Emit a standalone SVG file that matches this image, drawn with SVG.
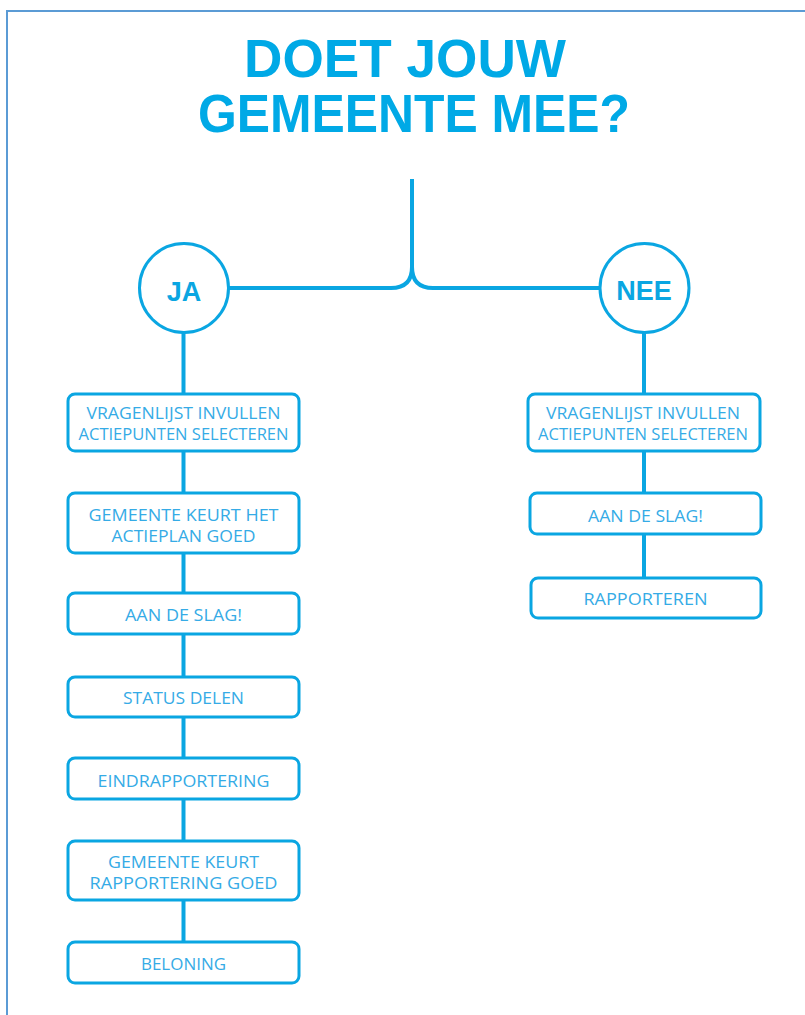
<svg xmlns="http://www.w3.org/2000/svg" width="805" height="1015" viewBox="0 0 805 1015">
<style>
.box{fill:#ffffff;stroke:#0aa6e2;stroke-width:3}
.circ{fill:#ffffff;stroke:#0aa6e2;stroke-width:3}
.con{fill:none;stroke:#0aa6e2;stroke-width:4}
.lbl{font-family:"Open Sans","Liberation Sans",sans-serif;font-size:16.5px;fill:#35abe6;text-anchor:middle}
.ttl{font-family:"Liberation Sans",Arial,sans-serif;font-weight:bold;font-size:53px;fill:#00a9e6;text-anchor:middle}
.cl{font-family:"Liberation Sans",Arial,sans-serif;font-weight:bold;font-size:27px;fill:#0aa6e2;text-anchor:middle}
</style>
<rect width="805" height="1015" fill="#ffffff"/>
<path d="M7,1015 V11 H805" fill="none" stroke="#5b9bd5" stroke-width="2"/>
<g id="title">
<text class="ttl" x="405" y="77" textLength="322" lengthAdjust="spacingAndGlyphs">DOET JOUW</text>
<text class="ttl" x="414" y="132" textLength="432" lengthAdjust="spacingAndGlyphs">GEMEENTE MEE?</text>
</g>
<g id="connectors">
<path class="con" d="M412,179 V267 Q412,288 391,288 H229"/>
<path class="con" d="M412,267 Q412,288 433,288 H600"/>
<line class="con" x1="183.5" y1="333" x2="183.5" y2="942"/>
<line class="con" x1="644" y1="333" x2="644" y2="578"/>
</g>
<g id="ja">
<circle class="circ" cx="184" cy="288" r="44.5"/>
<text class="cl" x="184" y="301">JA</text>
</g>
<g id="nee">
<circle class="circ" cx="644.5" cy="288" r="44.5"/>
<text class="cl" x="644" y="300">NEE</text>
</g>
<g id="ja1">
<rect class="box" x="68" y="394" width="231" height="57" rx="7"/>
<text class="lbl" x="183.5" y="419" textLength="194" lengthAdjust="spacingAndGlyphs">VRAGENLIJST INVULLEN</text>
<text class="lbl" x="183.5" y="440" textLength="210" lengthAdjust="spacingAndGlyphs">ACTIEPUNTEN SELECTEREN</text>
</g>
<g id="ja2">
<rect class="box" x="68" y="493" width="231" height="60" rx="7"/>
<text class="lbl" x="183.5" y="521" textLength="190" lengthAdjust="spacingAndGlyphs">GEMEENTE KEURT HET</text>
<text class="lbl" x="183.5" y="542" textLength="144" lengthAdjust="spacingAndGlyphs">ACTIEPLAN GOED</text>
</g>
<g id="ja3">
<rect class="box" x="68" y="593" width="231" height="41" rx="7"/>
<text class="lbl" x="183.5" y="621" textLength="117" lengthAdjust="spacingAndGlyphs">AAN DE SLAG!</text>
</g>
<g id="ja4">
<rect class="box" x="68" y="677" width="231" height="40" rx="7"/>
<text class="lbl" x="183.5" y="704" textLength="121" lengthAdjust="spacingAndGlyphs">STATUS DELEN</text>
</g>
<g id="ja5">
<rect class="box" x="68" y="758" width="231" height="41" rx="7"/>
<text class="lbl" x="183.5" y="787" textLength="172" lengthAdjust="spacingAndGlyphs">EINDRAPPORTERING</text>
</g>
<g id="ja6">
<rect class="box" x="68" y="841" width="231" height="59" rx="7"/>
<text class="lbl" x="183.5" y="868" textLength="151" lengthAdjust="spacingAndGlyphs">GEMEENTE KEURT</text>
<text class="lbl" x="183.5" y="889" textLength="188" lengthAdjust="spacingAndGlyphs">RAPPORTERING GOED</text>
</g>
<g id="ja7">
<rect class="box" x="68" y="942" width="231" height="41" rx="7"/>
<text class="lbl" x="183.5" y="970" textLength="85" lengthAdjust="spacingAndGlyphs">BELONING</text>
</g>
<g id="nee1">
<rect class="box" x="528" y="394" width="232" height="57" rx="7"/>
<text class="lbl" x="643" y="419" textLength="194" lengthAdjust="spacingAndGlyphs">VRAGENLIJST INVULLEN</text>
<text class="lbl" x="643" y="440" textLength="210" lengthAdjust="spacingAndGlyphs">ACTIEPUNTEN SELECTEREN</text>
</g>
<g id="nee2">
<rect class="box" x="530" y="493" width="231" height="41" rx="7"/>
<text class="lbl" x="645.5" y="522" textLength="115" lengthAdjust="spacingAndGlyphs">AAN DE SLAG!</text>
</g>
<g id="nee3">
<rect class="box" x="531" y="578" width="230" height="40" rx="7"/>
<text class="lbl" x="645.5" y="605" textLength="124" lengthAdjust="spacingAndGlyphs">RAPPORTEREN</text>
</g>
</svg>
